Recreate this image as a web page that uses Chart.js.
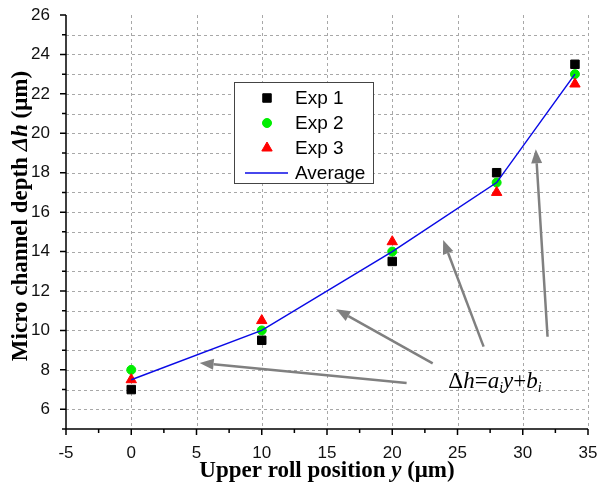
<!DOCTYPE html>
<html>
<head>
<meta charset="utf-8">
<script src="https://cdn.jsdelivr.net/npm/chart.js@4.4.1/dist/chart.umd.min.js"></script>
<style>
  html, body { margin: 0; padding: 0; background: #fff; }
</style>
</head>
<body>
<canvas id="chart" width="598" height="490"></canvas>
<script>
'use strict';
/* Micro channel depth vs upper roll position */

const positions = [0, 10, 20, 28, 34];
const exp1      = [7, 9.5, 13.5, 18, 23.5];
const exp2      = [8, 10, 14, 17.5, 23];
const exp3      = [7.5, 10.5, 14.5, 17, 22.5];
const average   = [7.5, 10, 14, 17.5, 23];

// gray arrows, tail -> head, in data units
const arrowTails = [[21.1, 7.33], [23.1, 8.33], [27.0, 9.18], [31.9, 9.68]];
const arrowHeads = [[5.24, 8.35], [15.7, 11.07], [23.9, 14.59], [31.0, 19.19]];
const formulaAt  = [24.3, 7.08];

const SANS  = '"Liberation Sans", Arial, sans-serif';
const SERIF = '"Liberation Serif", "Times New Roman", serif';
const GRID  = '#a8a8a8';

const toPoints = ys => positions.map((x, i) => ({ x, y: ys[i] }));

const datasets = [
  { label: 'Average', data: toPoints(average), showLine: true, borderColor: '#0a0ae6', borderWidth: 1.5,
    pointRadius: 0, order: 0, legendStyle: 'line' },
  { label: 'Exp 3', data: toPoints(exp3), pointStyle: 'triangle', pointRadius: 6, borderWidth: 1,
    backgroundColor: '#ff0000', borderColor: '#ff0000', showLine: false, order: 1 },
  { label: 'Exp 2', data: toPoints(exp2), pointStyle: 'circle', pointRadius: 4.5, borderWidth: 1,
    backgroundColor: '#00ee00', borderColor: '#00ee00', showLine: false, order: 2 },
  { label: 'Exp 1', data: toPoints(exp1), pointStyle: 'rect', pointRadius: 6, borderWidth: 1,
    backgroundColor: '#000', borderColor: '#000', showLine: false, order: 3 }
];
const legendOrder = ['Exp 1', 'Exp 2', 'Exp 3', 'Average'];

// ── mixed style text helper ───────────────────────────────────
function drawRuns(ctx, runs, x, y) {
  let cx = x;
  runs.forEach(r => {
    ctx.font = r.font;
    ctx.fillText(r.text, cx, y + (r.dy || 0));
    cx += ctx.measureText(r.text).width;
  });
}
function runsWidth(ctx, runs) {
  return runs.reduce((w, r) => { ctx.font = r.font; return w + ctx.measureText(r.text).width; }, 0);
}

function drawArrow(ctx, x1, y1, x2, y2) {
  const ang = Math.atan2(y2 - y1, x2 - x1);
  const len = 14, half = 5.5;
  const bx = x2 - Math.cos(ang) * len, by = y2 - Math.sin(ang) * len;
  ctx.beginPath();
  ctx.moveTo(x1, y1);
  ctx.lineTo(bx, by);
  ctx.stroke();
  ctx.beginPath();
  ctx.moveTo(x2, y2);
  ctx.lineTo(bx - Math.sin(ang) * half, by + Math.cos(ang) * half);
  ctx.lineTo(bx + Math.sin(ang) * half, by - Math.cos(ang) * half);
  ctx.closePath();
  ctx.fill();
}

const isMajorX = v => Math.abs(v % 5) < 1e-6;

const decor = {
  id: 'decor',
  beforeDatasetsDraw(chart) {
    // dotted grid: every unit on y, every 5 on x
    const { ctx, chartArea: a } = chart;
    const xs = chart.scales.x, ys = chart.scales.y;
    ctx.save();
    ctx.strokeStyle = GRID;
    ctx.lineWidth = 1;
    ctx.setLineDash([3, 3]);
    ctx.beginPath();
    ys.ticks.forEach(t => {
      if (t.value >= ys.max || t.value <= ys.min) return;
      const py = Math.round(ys.getPixelForValue(t.value)) + 0.5;
      ctx.moveTo(a.left, py);
      ctx.lineTo(a.right, py);
    });
    xs.ticks.forEach(t => {
      if (!isMajorX(t.value) || t.value <= xs.min) return;
      const px = Math.round(xs.getPixelForValue(t.value)) + 0.5;
      ctx.moveTo(px, a.top);
      ctx.lineTo(px, a.bottom);
    });
    ctx.stroke();
    ctx.restore();
  },
  afterDraw(chart) {
    const { ctx, chartArea: a } = chart;
    const xs = chart.scales.x, ys = chart.scales.y;
    ctx.save();

    // axis lines and outward tick marks
    ctx.strokeStyle = '#000';
    ctx.lineWidth = 1.5;
    ctx.beginPath();
    ctx.moveTo(a.left, a.top);
    ctx.lineTo(a.left, a.bottom);
    ctx.lineTo(a.right, a.bottom);
    xs.ticks.forEach(t => {
      const px = xs.getPixelForValue(t.value);
      const len = isMajorX(t.value) ? 6 : 4;
      ctx.moveTo(px, a.bottom);
      ctx.lineTo(px, a.bottom + len);
    });
    ys.ticks.forEach(t => {
      const py = ys.getPixelForValue(t.value);
      const len = t.value % 2 === 0 ? 6 : 4;
      ctx.moveTo(a.left, py);
      ctx.lineTo(a.left - len, py);
    });
    ctx.stroke();

    // arrows
    ctx.strokeStyle = '#808080';
    ctx.fillStyle = '#808080';
    ctx.lineWidth = 2.5;
    arrowTails.forEach((t, i) => {
      const h = arrowHeads[i];
      drawArrow(ctx, xs.getPixelForValue(t[0]), ys.getPixelForValue(t[1]),
                xs.getPixelForValue(h[0]), ys.getPixelForValue(h[1]));
    });

    // formula
    ctx.fillStyle = '#000';
    ctx.textAlign = 'left';
    ctx.textBaseline = 'alphabetic';
    const up = `23px ${SERIF}`, it = `italic 23px ${SERIF}`, sub = `italic 14px ${SERIF}`;
    drawRuns(ctx, [
      { text: 'Δ', font: up }, { text: 'h', font: it }, { text: '=', font: up },
      { text: 'a', font: it }, { text: 'i', font: sub, dy: 4 }, { text: 'y', font: it },
      { text: '+', font: up }, { text: 'b', font: it }, { text: 'i', font: sub, dy: 4 }
    ], xs.getPixelForValue(formulaAt[0]), ys.getPixelForValue(formulaAt[1]));

    // axis titles
    ctx.textBaseline = 'middle';
    const bx = `bold 23px ${SERIF}`, bix = `bold italic 23px ${SERIF}`;
    const xRuns = [{ text: 'Upper roll position ', font: bx }, { text: 'y', font: bix }, { text: ' (μm)', font: bx }];
    drawRuns(ctx, xRuns, (a.left + a.right) / 2 - runsWidth(ctx, xRuns) / 2, 471);
    const by = `bold 23px ${SERIF}`, biy = `bold italic 23px ${SERIF}`;
    const yRuns = [{ text: 'Micro channel depth ', font: by }, { text: 'Δh', font: biy }, { text: ' (μm)', font: by }];
    ctx.save();
    ctx.translate(21, 216);
    ctx.rotate(-Math.PI / 2);
    drawRuns(ctx, yRuns, -runsWidth(ctx, yRuns) / 2, 0);
    ctx.restore();

    // legend box
    const box = { x: 234, y: 82, w: 139, h: 101 };
    ctx.fillStyle = '#fff';
    ctx.fillRect(box.x, box.y, box.w, box.h);
    ctx.strokeStyle = '#444';
    ctx.lineWidth = 1;
    ctx.strokeRect(box.x + 0.5, box.y + 0.5, box.w, box.h);
    ctx.font = `19px ${SANS}`;
    ctx.textBaseline = 'middle';
    legendOrder.forEach((name, i) => {
      const ds = chart.data.datasets.find(d => d.label === name);
      const cy = 98 + i * 25;
      if (ds.legendStyle === 'line') {
        ctx.strokeStyle = ds.borderColor;
        ctx.lineWidth = ds.borderWidth;
        ctx.beginPath();
        ctx.moveTo(245, cy);
        ctx.lineTo(288, cy);
        ctx.stroke();
      } else {
        ctx.fillStyle = ds.backgroundColor;
        ctx.strokeStyle = ds.borderColor;
        ctx.lineWidth = ds.borderWidth;
        Chart.helpers.drawPoint(ctx, { pointStyle: ds.pointStyle, radius: ds.pointRadius, rotation: 0, borderWidth: 1 }, 267, cy);
      }
      ctx.fillStyle = '#000';
      ctx.fillText(name, 295, cy + 1);
    });

    ctx.restore();
  }
};

new Chart(document.getElementById('chart'), {
  type: 'scatter',
  data: { datasets },
  options: {
    responsive: false,
    animation: false,
    layout: { padding: { top: 15, right: 10, left: 0, bottom: 0 } },
    plugins: { legend: { display: false }, tooltip: { enabled: false } },
    scales: {
      x: {
        type: 'linear', min: -5, max: 35,
        afterFit: s => { s.height = 61; s.paddingLeft = 0; s.paddingRight = 0; },
        ticks: {
          stepSize: 2.5, autoSkip: false, maxRotation: 0, padding: 14,
          color: '#111', font: { family: SANS, size: 17 },
          callback: v => (isMajorX(v) ? v : '')
        },
        grid: { display: false, drawTicks: false },
        border: { display: false }
      },
      y: {
        type: 'linear', min: 5, max: 26,
        afterFit: s => { s.width = 66; s.paddingTop = 0; s.paddingBottom = 0; },
        ticks: {
          stepSize: 1, autoSkip: false, padding: 16,
          color: '#111', font: { family: SANS, size: 17 },
          callback: v => (v % 2 === 0 ? v : '')
        },
        grid: { display: false, drawTicks: false },
        border: { display: false }
      }
    }
  },
  plugins: [decor]
});
</script>
</body>
</html>
